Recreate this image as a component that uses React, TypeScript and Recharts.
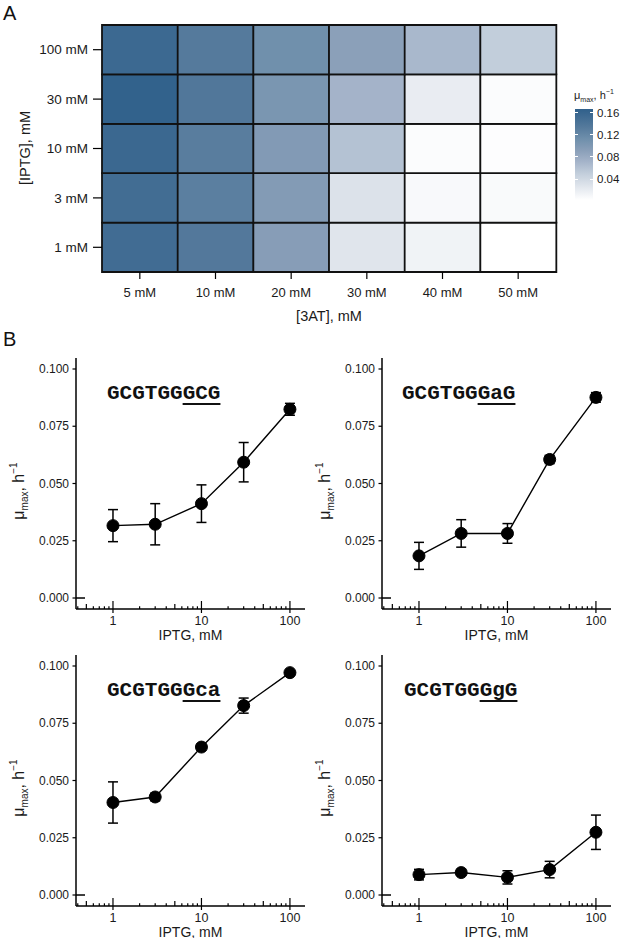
import { BarChart, Bar, Cell, LineChart, Line, ErrorBar, XAxis, YAxis } from "recharts";

// ---- Panel A data: growth rate heatmap ----
const AT_LEVELS = ["5 mM", "10 mM", "20 mM", "30 mM", "40 mM", "50 mM"];
// bottom to top
const IPTG_LEVELS = ["1 mM", "3 mM", "10 mM", "30 mM", "100 mM"];

const MU_IPTG_1 = [0.152, 0.136, 0.094, 0.027, 0.014, 0.002];
const MU_IPTG_3 = [0.151, 0.129, 0.097, 0.030, 0.008, 0.007];
const MU_IPTG_10 = [0.157, 0.131, 0.098, 0.060, 0.005, 0.004];
const MU_IPTG_30 = [0.165, 0.138, 0.104, 0.072, 0.020, 0.005];
const MU_IPTG_100 = [0.156, 0.134, 0.112, 0.091, 0.068, 0.050];
const MU_GRID = [MU_IPTG_1, MU_IPTG_3, MU_IPTG_10, MU_IPTG_30, MU_IPTG_100];

const LEGEND_TICKS = [0.04, 0.08, 0.12, 0.16];

// ---- Panel B data: mu_max vs IPTG for four motifs ----
const IPTG_X = [1, 3, 10, 30, 100];
const SEQ_PREFIX = "GCGTGG";

const GCG_MEAN = [0.0316, 0.0322, 0.0412, 0.0593, 0.0824];
const GCG_ERR = [0.007, 0.009, 0.0082, 0.0086, 0.0026];
const GAG_MEAN = [0.0184, 0.0282, 0.0282, 0.0605, 0.0876];
const GAG_ERR = [0.0059, 0.006, 0.0043, 0.0018, 0.0021];
const GCA_MEAN = [0.0404, 0.0428, 0.0646, 0.0827, 0.0971];
const GCA_ERR = [0.009, 0.0017, 0.0013, 0.0033, 0.0005];
const GGG_MEAN = [0.0089, 0.0098, 0.0077, 0.0111, 0.0274];
const GGG_ERR = [0.0023, 0.001, 0.0029, 0.0036, 0.0075];

const LOG_TICKS = [
  0.4, 0.5, 0.6, 0.7, 0.8, 0.9,
  1, 2, 3, 4, 5, 6, 7, 8, 9,
  10, 20, 30, 40, 50, 60, 70, 80, 90,
  100,
];
const MU_TICKS = [0, 0.025, 0.05, 0.075, 0.1];

// fill scale, white -> steel blue
const COLOR_STOPS: [number, string][] = [
  [0.002, "#ffffff"],
  [0.03, "#dce2ea"],
  [0.05, "#c2cedb"],
  [0.072, "#a4b3c9"],
  [0.094, "#879db7"],
  [0.112, "#7090ac"],
  [0.134, "#557a9c"],
  [0.167, "#30608b"],
];
const MU_MIN = COLOR_STOPS[0][0];
const MU_MAX = COLOR_STOPS[COLOR_STOPS.length - 1][0];

const hexToRgb = (h: string) => [1, 3, 5].map((i) => parseInt(h.slice(i, i + 2), 16));

function muColor(v: number) {
  for (let i = 1; i < COLOR_STOPS.length; i++) {
    const [v1, c1] = COLOR_STOPS[i];
    if (v <= v1 || i === COLOR_STOPS.length - 1) {
      const [v0, c0] = COLOR_STOPS[i - 1];
      const t = Math.max(0, Math.min(1, (v - v0) / (v1 - v0)));
      const a = hexToRgb(c0);
      const b = hexToRgb(c1);
      const rgb = a.map((x, k) => Math.round(x + (b[k] - x) * t));
      return `rgb(${rgb.join(",")})`;
    }
  }
  return "#ffffff";
}

const FONT = '"Liberation Sans", Arial, Helvetica, sans-serif';
const INK = "#1a1a1a";

// every cell is one unit tall so the stack lines up with the IPTG rows
const heatRows = AT_LEVELS.map((at) => {
  const row: Record<string, string | number> = { at };
  IPTG_LEVELS.forEach((_, r) => {
    row[`r${r}`] = 1;
  });
  return row;
});

const Heatmap = () => (
  <div style={{ position: "absolute", left: 0, top: 0 }}>
    <BarChart
      width={560}
      height={325}
      data={heatRows}
      margin={{ top: 25, right: 4, bottom: 0, left: 0 }}
      barCategoryGap={0}
      barGap={0}
    >
      <XAxis
        dataKey="at"
        type="category"
        interval={0}
        height={53}
        axisLine={false}
        tickSize={7}
        tickMargin={9}
        tickLine={{ stroke: "#000", strokeWidth: 1.2 }}
        tick={{ fill: INK, fontSize: 13 }}
      />
      <YAxis
        type="number"
        domain={[0, 5]}
        ticks={[0.5, 1.5, 2.5, 3.5, 4.5]}
        interval={0}
        width={102}
        axisLine={false}
        tickSize={9}
        tickMargin={5}
        tickLine={{ stroke: "#000", strokeWidth: 1.2 }}
        tick={{ fill: INK, fontSize: 13.5 }}
        tickFormatter={(v: number) => IPTG_LEVELS[Math.floor(v)]}
      />
      {IPTG_LEVELS.map((lvl, r) => (
        <Bar key={lvl} dataKey={`r${r}`} stackId="cells" isAnimationActive={false}>
          {AT_LEVELS.map((at, c) => (
            <Cell key={at} fill={muColor(MU_GRID[r][c])} stroke="#111" strokeWidth={1.8} />
          ))}
        </Bar>
      ))}
    </BarChart>
  </div>
);

// colour bar: value -> y on the page
const BAR_TOP = 109;
const BAR_BOTTOM = 200;
const barY = (v: number) => BAR_BOTTOM - ((v - MU_MIN) / (MU_MAX - MU_MIN)) * (BAR_BOTTOM - BAR_TOP);

const HeatLegend = () => {
  const gradient = `linear-gradient(to top, ${COLOR_STOPS.map(
    ([v, c]) => `${c} ${(((v - MU_MIN) / (MU_MAX - MU_MIN)) * 100).toFixed(1)}%`
  ).join(", ")})`;
  return (
    <>
      <div style={{ position: "absolute", left: 574, top: 86, fontSize: 11, color: INK, whiteSpace: "nowrap", lineHeight: "12px" }}>
        μ<sub style={{ fontSize: 7 }}>max</sub>, h<sup style={{ fontSize: 7 }}>−1</sup>
      </div>
      <div
        style={{
          position: "absolute",
          left: 575,
          top: BAR_TOP,
          width: 18,
          height: BAR_BOTTOM - BAR_TOP,
          background: gradient,
        }}
      />
      {LEGEND_TICKS.map((v) => (
        <div key={v}>
          <div style={{ position: "absolute", left: 575, top: barY(v) - 0.5, width: 3, height: 1, background: "#fff" }} />
          <div style={{ position: "absolute", left: 590, top: barY(v) - 0.5, width: 3, height: 1, background: "#fff" }} />
          <div style={{ position: "absolute", left: 597, top: barY(v) - 7, fontSize: 11.5, lineHeight: "14px", color: INK }}>
            {v.toFixed(2)}
          </div>
        </div>
      ))}
    </>
  );
};

const isMajor = (v: number) => {
  const lg = Math.log10(v);
  return Math.abs(lg - Math.round(lg)) < 1e-9;
};
const isMid = (v: number) => {
  const d = Math.pow(10, Math.floor(Math.log10(v) + 1e-9));
  return Math.abs(v / d - 5) < 1e-9;
};

// bottom log ticks: pointing into the panel, majors also get an outer tick + label
const LogTick = (props: any) => {
  const { x, y, payload } = props;
  const v = payload.value as number;
  const major = isMajor(v);
  const len = major ? 8 : isMid(v) ? 5 : 2.7;
  return (
    <g>
      <line x1={x} x2={x} y1={y} y2={y - len} stroke="#000" strokeWidth={1.2} />
      {major && <line x1={x} x2={x} y1={y} y2={y + 4} stroke="#000" strokeWidth={1.2} />}
      {major && (
        <text x={x} y={y + 15.5} textAnchor="middle" fontSize={12.5} fill={INK}>
          {v}
        </text>
      )}
    </g>
  );
};

const MuTick = (props: any) => {
  const { x, y, payload } = props;
  const v = payload.value as number;
  return (
    <g>
      <line x1={x - 3.5} x2={x} y1={y} y2={y} stroke="#000" strokeWidth={1.2} />
      {v === 0 && <line x1={x} x2={x + 9} y1={y} y2={y} stroke="#000" strokeWidth={1.5} />}
      <text x={x - 7} y={y} dy="0.35em" textAnchor="end" fontSize={12} fill={INK}>
        {v.toFixed(3)}
      </text>
    </g>
  );
};

interface PanelProps {
  left: number;
  top: number;
  variant: string;
  seqLeft: number;
  mean: number[];
  err: number[];
}

const PLOT_H = 251;
const CHART_W = 310;
const Y_AXIS_W = 76;
const M_TOP = 13;
const M_RIGHT = 5;

const GrowthPanel = ({ left, top, variant, seqLeft, mean, err }: PanelProps) => {
  const data = IPTG_X.map((x, i) => ({ iptg: x, mu: mean[i], err: err[i] }));
  const plotLeft = left + Y_AXIS_W;
  const plotRight = left + CHART_W - M_RIGHT;
  return (
    <>
      <div style={{ position: "absolute", left, top }}>
        <LineChart
          width={CHART_W}
          height={M_TOP + PLOT_H + 32}
          data={data}
          margin={{ top: M_TOP, right: M_RIGHT, bottom: 0, left: 0 }}
        >
          <XAxis
            dataKey="iptg"
            type="number"
            scale="log"
            domain={[0.382, 148]}
            allowDataOverflow
            ticks={LOG_TICKS}
            interval={0}
            height={32}
            tickSize={0}
            tickMargin={0}
            tickLine={false}
            axisLine={{ stroke: "#000", strokeWidth: 1.5 }}
            tick={(p: any) => <LogTick {...p} />}
          />
          <YAxis
            type="number"
            domain={[-0.0048, 0.1048]}
            allowDataOverflow
            ticks={MU_TICKS}
            interval={0}
            width={Y_AXIS_W}
            tickSize={0}
            tickMargin={0}
            tickLine={false}
            axisLine={{ stroke: "#000", strokeWidth: 1.5 }}
            tick={(p: any) => <MuTick {...p} />}
          />
          <Line
            dataKey="mu"
            stroke="#000"
            strokeWidth={1.4}
            dot={{ r: 6, fill: "#000", stroke: "#000", strokeWidth: 1 }}
            activeDot={false}
            isAnimationActive={false}
          >
            <ErrorBar dataKey="err" direction="y" width={5} stroke="#000" strokeWidth={1.5} />
          </Line>
        </LineChart>
      </div>
      {/* motif label, last three bases underlined */}
      <div
        style={{
          position: "absolute",
          left: seqLeft,
          top: top + 38,
          fontFamily: '"Liberation Mono", "Courier New", monospace',
          fontWeight: "bold",
          fontSize: 21,
          lineHeight: "21px",
          color: "#111",
          whiteSpace: "nowrap",
        }}
      >
        {SEQ_PREFIX}
        <span
          style={{
            textDecoration: "underline",
            textDecorationThickness: "2px",
            textUnderlineOffset: "4px",
            textDecorationSkipInk: "none",
          }}
        >
          {variant}
        </span>
      </div>
      <div
        style={{
          position: "absolute",
          left: left + 19,
          top: top + M_TOP + PLOT_H / 2 + 7,
          transform: "translate(-50%, -50%) rotate(-90deg)",
          fontSize: 16,
          color: INK,
          whiteSpace: "nowrap",
        }}
      >
        μ<sub style={{ fontSize: 10 }}>max</sub>, h<sup style={{ fontSize: 10 }}>−1</sup>
      </div>
      <div
        style={{
          position: "absolute",
          left: (plotLeft + plotRight) / 2,
          top: top + M_TOP + PLOT_H + 25.5,
          transform: "translate(-50%, -50%)",
          fontSize: 14,
          lineHeight: "12px",
          color: INK,
          whiteSpace: "nowrap",
        }}
      >
        IPTG, mM
      </div>
    </>
  );
};

export default function App() {
  return (
    <div
      style={{
        position: "absolute",
        left: 0,
        top: 0,
        width: 620,
        height: 938,
        background: "#fff",
        fontFamily: FONT,
        overflow: "hidden",
      }}
    >
      <div style={{ position: "absolute", left: 3, top: 3, fontSize: 20, lineHeight: "20px", color: "#111" }}>A</div>
      <Heatmap />
      <div
        style={{
          position: "absolute",
          left: 25,
          top: 148,
          transform: "translate(-50%, -50%) rotate(-90deg)",
          fontSize: 14.5,
          color: INK,
          whiteSpace: "nowrap",
        }}
      >
        [IPTG], mM
      </div>
      <div
        style={{
          position: "absolute",
          left: 329,
          top: 316,
          transform: "translate(-50%, -50%)",
          fontSize: 14.5,
          color: INK,
          whiteSpace: "nowrap",
        }}
      >
        [3AT], mM
      </div>
      <HeatLegend />

      <div style={{ position: "absolute", left: 3, top: 329, fontSize: 20, lineHeight: "20px", color: "#111" }}>B</div>
      <GrowthPanel left={0} top={345} variant="GCG" seqLeft={107} mean={GCG_MEAN} err={GCG_ERR} />
      <GrowthPanel left={306} top={345} variant="GaG" seqLeft={402} mean={GAG_MEAN} err={GAG_ERR} />
      <GrowthPanel left={0} top={642} variant="Gca" seqLeft={107} mean={GCA_MEAN} err={GCA_ERR} />
      <GrowthPanel left={306} top={642} variant="GgG" seqLeft={404} mean={GGG_MEAN} err={GGG_ERR} />
    </div>
  );
}
